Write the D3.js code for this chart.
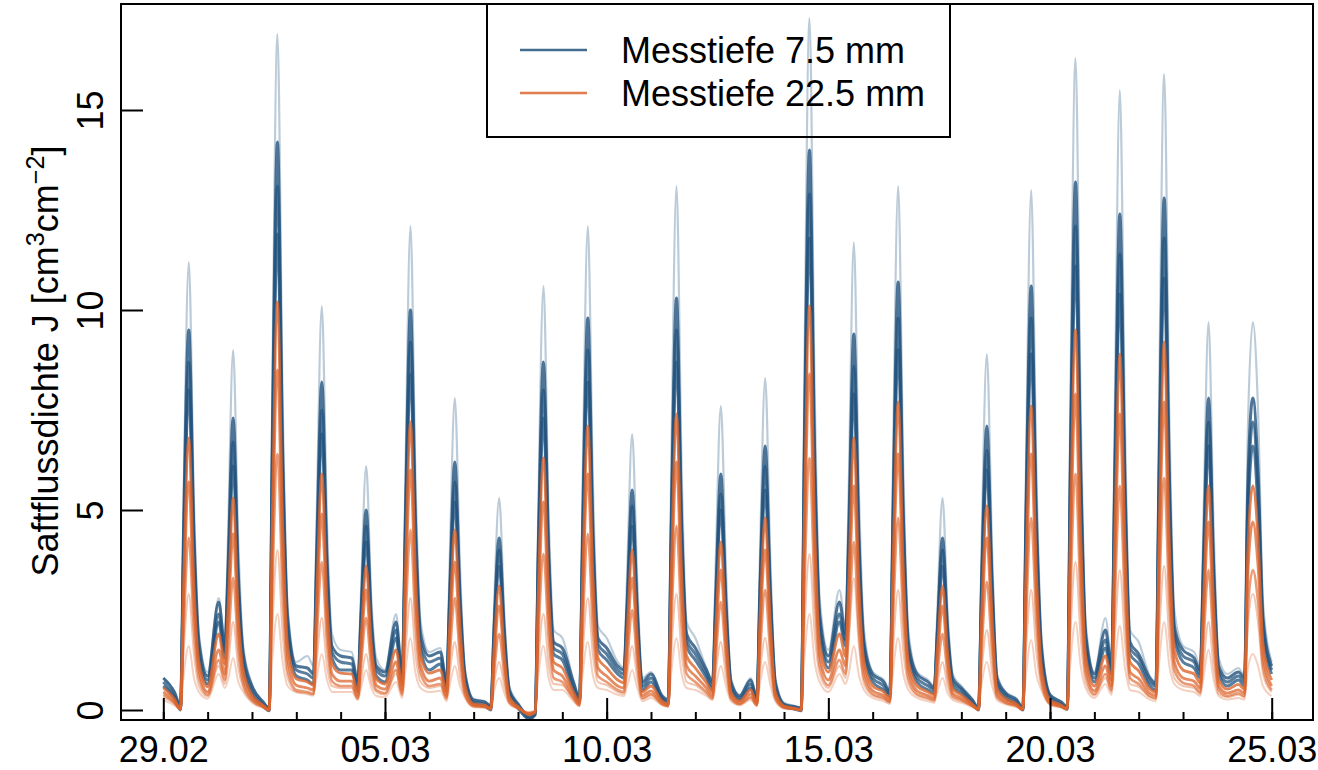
<!DOCTYPE html>
<html><head><meta charset="utf-8">
<script src="https://cdn.jsdelivr.net/npm/d3@7"></script>
<style>
html,body{margin:0;padding:0;background:#fff;}
svg{display:block;font-family:"Liberation Sans",Arial,Helvetica,sans-serif;}
</style></head>
<body><svg id="chart" width="1318" height="770"></svg>
<script>
// ---- data ----
const seriesNames = ["Messtiefe 7.5 mm", "Messtiefe 22.5 mm"];
const majorTickDays = [0, 5, 10, 15, 20, 25];
const majorTickLabels = ["29.02", "05.03", "10.03", "15.03", "20.03", "25.03"];
const minorTickDays = [0,1,2,3,4,5,6,7,8,9,10,11,12,13,14,15,16,17,18,19,20,21,22,23,24,25];
const yTicks = [0, 5, 10, 15];
// sample hours within each day (7 per day), days 0..24, plus final point at day 25 0h
const sampleHours = [0, 6, 9.3, 11.0, 13.8, 16.6, 19.3];

// Messtiefe 7.5 mm (blue)
const blueLight = [
0.8,0.45,0.1,5.3,11.2,5.2,1.9, 0.95,2.8,1.7,4.3,9.0,4.2,1.6,
0.65,0.22,0.05,8.0,16.9,7.8,2.6, 1.2,1.35,1.1,4.8,10.1,4.7,1.9,
1.5,1.45,0.75,2.9,6.1,2.8,1.3, 1.0,2.4,0.95,5.7,12.1,5.6,2.2,
1.45,1.55,0.75,3.7,7.8,3.6,1.0, 0.28,0.22,0.1,2.5,5.3,2.4,0.6,
0.18,-0.12,-0.02,5.0,10.6,4.9,2.0, 1.8,0.75,0.32,5.7,12.1,5.6,2.1,
1.8,1.2,1.05,3.3,6.9,3.2,0.8, 0.95,0.38,0.28,6.2,13.1,6.0,2.2,
1.8,1.05,0.75,3.6,7.6,3.5,0.8, 0.38,0.8,0.32,3.9,8.3,3.8,0.8,
0.18,0.1,0.05,8.2,17.3,8.0,2.8, 1.5,3.0,2.1,5.5,11.7,5.4,2.0,
0.95,0.75,0.5,6.2,13.1,6.0,2.0, 0.95,0.75,0.6,2.5,5.3,2.4,0.9,
0.6,0.28,0.05,4.2,8.9,4.1,0.9, 0.45,0.28,0.05,6.1,13.0,6.0,1.9,
0.4,0.22,0.1,7.7,16.3,7.5,2.2, 0.95,2.3,1.25,7.3,15.5,7.1,2.0,
1.7,0.85,0.7,7.5,15.9,7.3,2.5, 1.6,1.45,1.1,4.6,9.7,4.5,1.3,
0.9,1.05,0.85,6.8,9.7,7.5,2.7, 1.2];
const blueHigh = [
0.8,0.45,0.1,4.6,9.5,4.4,1.7, 0.85,2.7,1.6,3.5,7.3,3.4,1.4,
0.6,0.2,0.05,6.7,14.2,6.5,2.3, 1.1,1.05,0.9,3.9,8.2,3.8,1.6,
1.35,1.3,0.7,2.4,5.0,2.3,1.1, 0.95,2.2,0.9,4.7,10.0,4.6,1.9,
1.35,1.45,0.7,2.9,6.2,2.9,0.9, 0.25,0.2,0.1,2.0,4.3,2.0,0.5,
0.15,-0.15,-0.05,4.1,8.7,4.0,1.7, 1.55,0.7,0.3,4.6,9.8,4.5,1.8,
1.55,1.1,1.0,2.6,5.5,2.5,0.7, 0.9,0.35,0.25,4.8,10.3,4.7,1.9,
1.55,1.0,0.7,2.8,5.9,2.7,0.7, 0.35,0.75,0.3,3.1,6.6,3.0,0.7,
0.15,0.08,0.05,6.6,14.0,6.4,2.4, 1.35,2.7,1.9,4.4,9.4,4.3,1.7,
0.9,0.7,0.45,5.0,10.7,4.9,1.7, 0.9,0.7,0.55,2.0,4.3,2.0,0.8,
0.55,0.25,0.05,3.3,7.1,3.3,0.8, 0.42,0.25,0.05,5.0,10.6,4.9,1.6,
0.38,0.2,0.08,6.2,13.2,6.1,1.9, 0.9,2.0,1.1,5.8,12.4,5.7,1.7,
1.4,0.8,0.65,6.0,12.8,5.9,2.1, 1.5,1.3,1.0,3.7,7.8,3.6,1.1,
0.8,0.95,0.8,5.5,7.8,6.0,2.3, 1.1];
const blueMid = [
0.7,0.35,0.05,4.1,8.7,4.0,1.5, 0.75,2.4,1.45,3.2,6.7,3.1,1.25,
0.5,0.15,0.0,6.2,13.1,6.0,2.1, 1.0,0.9,0.8,3.5,7.5,3.5,1.45,
1.2,1.15,0.6,2.2,4.6,2.1,1.0, 0.85,2.0,0.8,4.3,9.2,4.2,1.7,
1.2,1.3,0.6,2.7,5.7,2.6,0.8, 0.2,0.15,0.05,1.9,4.0,1.8,0.45,
0.1,-0.2,-0.1,3.8,8.0,3.7,1.55, 1.4,0.6,0.25,4.2,9.0,4.1,1.65,
1.4,1.0,0.9,2.4,5.1,2.3,0.6, 0.8,0.3,0.2,4.5,9.5,4.4,1.75,
1.4,0.9,0.6,2.5,5.4,2.5,0.6, 0.3,0.65,0.25,2.9,6.1,2.8,0.6,
0.12,0.05,0.0,6.1,12.9,5.9,2.2, 1.2,2.4,1.75,4.0,8.6,4.0,1.55,
0.8,0.6,0.4,4.6,9.8,4.5,1.55, 0.8,0.6,0.5,1.9,4.0,1.8,0.7,
0.5,0.2,0.02,3.1,6.5,3.0,0.7, 0.37,0.2,0.02,4.6,9.8,4.5,1.45,
0.33,0.15,0.05,5.7,12.1,5.6,1.75, 0.8,1.75,1.0,5.4,11.4,5.2,1.55,
1.3,0.7,0.6,5.5,11.8,5.4,1.95, 1.35,1.2,0.9,3.4,7.2,3.3,1.0,
0.7,0.85,0.7,5.0,7.2,5.5,2.1, 1.0];
const blueLow = [
0.6,0.3,0.0,3.8,8.0,3.7,1.35, 0.65,2.2,1.3,2.9,6.1,2.8,1.1,
0.4,0.1,-0.02,5.6,11.9,5.5,1.9, 0.85,0.75,0.65,3.2,6.9,3.2,1.3,
1.0,1.0,0.5,2.0,4.2,1.9,0.85, 0.7,1.8,0.7,4.0,8.4,3.9,1.5,
1.0,1.15,0.5,2.4,5.2,2.4,0.7, 0.15,0.1,0.0,1.7,3.6,1.7,0.4,
0.05,-0.22,-0.12,3.4,7.3,3.4,1.4, 1.25,0.5,0.2,3.9,8.2,3.8,1.5,
1.25,0.9,0.8,2.2,4.6,2.1,0.5, 0.7,0.25,0.15,4.1,8.7,4.0,1.6,
1.25,0.8,0.5,2.4,5.0,2.3,0.5, 0.25,0.55,0.2,2.6,5.5,2.5,0.5,
0.08,0.02,-0.02,5.6,11.8,5.4,2.0, 1.05,2.2,1.6,3.7,7.9,3.6,1.4,
0.7,0.5,0.35,4.2,9.0,4.1,1.4, 0.7,0.5,0.42,1.7,3.6,1.7,0.6,
0.42,0.15,0.0,2.8,6.0,2.8,0.6, 0.3,0.15,0.0,4.2,8.9,4.1,1.3,
0.28,0.1,0.02,5.2,11.1,5.1,1.6, 0.7,1.55,0.9,4.9,10.4,4.8,1.4,
1.15,0.6,0.5,5.1,10.8,5.0,1.8, 1.2,1.05,0.8,3.1,6.6,3.0,0.9,
0.6,0.75,0.6,4.6,6.6,5.0,1.9, 0.9];

// Messtiefe 22.5 mm (orange)
const orangeHigh = [
0.55,0.28,0.03,3.2,6.8,3.1,1.2, 0.58,1.9,1.15,2.5,5.3,2.4,1.0,
0.38,0.12,0.0,4.8,10.2,4.7,1.6, 0.78,0.7,0.62,2.8,5.9,2.7,1.15,
0.92,0.9,0.45,1.7,3.6,1.65,0.78, 0.65,1.5,0.62,3.4,7.2,3.3,1.35,
0.92,1.0,0.45,2.1,4.5,2.1,0.62, 0.15,0.12,0.04,1.5,3.1,1.4,0.32,
0.08,-0.12,-0.06,3.0,6.3,2.9,1.2, 1.05,0.45,0.2,3.3,7.1,3.3,1.3,
1.05,0.75,0.68,1.9,4.0,1.8,0.45, 0.6,0.22,0.15,3.5,7.4,3.4,1.35,
1.05,0.68,0.45,2.0,4.2,1.95,0.45, 0.22,0.5,0.18,2.3,4.8,2.2,0.45,
0.1,0.04,0.0,4.8,10.1,4.6,1.65, 0.95,1.9,1.35,3.2,6.8,3.1,1.2,
0.6,0.45,0.3,3.6,7.7,3.5,1.2, 0.6,0.45,0.38,1.5,3.1,1.4,0.52,
0.38,0.15,0.02,2.4,5.1,2.35,0.52, 0.28,0.15,0.02,3.6,7.6,3.5,1.12,
0.25,0.12,0.04,4.5,9.5,4.4,1.35, 0.6,1.35,0.75,4.2,8.9,4.1,1.2,
0.98,0.52,0.45,4.3,9.2,4.2,1.5, 1.0,0.9,0.68,2.6,5.6,2.6,0.75,
0.52,0.64,0.52,3.9,5.6,4.3,1.65, 0.75];
const orangeMid = [
0.45,0.22,0.02,2.7,5.7,2.6,1.0, 0.45,1.5,0.9,2.1,4.4,2.0,0.8,
0.3,0.1,0.0,4.0,8.5,3.9,1.3, 0.62,0.55,0.5,2.3,4.9,2.25,0.9,
0.72,0.72,0.36,1.4,3.0,1.4,0.62, 0.52,1.2,0.5,2.8,6.0,2.8,1.1,
0.72,0.8,0.36,1.75,3.7,1.7,0.5, 0.12,0.1,0.03,1.2,2.6,1.2,0.26,
0.06,-0.1,-0.05,2.45,5.2,2.4,1.0, 0.85,0.36,0.15,2.8,5.9,2.7,1.05,
0.85,0.6,0.55,1.55,3.3,1.5,0.36, 0.48,0.18,0.12,2.9,6.2,2.85,1.1,
0.85,0.55,0.36,1.65,3.5,1.6,0.36, 0.18,0.4,0.15,1.9,4.0,1.85,0.36,
0.08,0.03,0.0,4.0,8.4,3.9,1.35, 0.75,1.5,1.1,2.6,5.6,2.6,1.0,
0.48,0.36,0.24,3.0,6.4,2.95,1.0, 0.48,0.36,0.3,1.2,2.6,1.2,0.42,
0.3,0.12,0.01,2.0,4.3,2.0,0.42, 0.22,0.12,0.01,3.0,6.4,2.95,0.9,
0.2,0.1,0.03,3.7,7.9,3.6,1.1, 0.48,1.1,0.6,3.5,7.4,3.4,0.95,
0.78,0.42,0.36,3.6,7.7,3.5,1.2, 0.8,0.72,0.55,2.2,4.7,2.15,0.6,
0.42,0.5,0.42,3.3,4.7,3.6,1.35, 0.6];
const orangeLow = [
0.38,0.18,0.02,2.0,4.3,2.0,0.8, 0.38,1.25,0.75,1.55,3.3,1.5,0.65,
0.25,0.08,0.0,3.0,6.4,2.9,1.0, 0.5,0.45,0.4,1.75,3.7,1.7,0.72,
0.6,0.6,0.3,1.1,2.3,1.05,0.5, 0.42,1.0,0.4,2.1,4.5,2.05,0.9,
0.6,0.65,0.3,1.3,2.8,1.3,0.4, 0.1,0.08,0.02,0.9,1.9,0.88,0.2,
0.05,-0.08,-0.04,1.8,3.9,1.8,0.8, 0.7,0.3,0.12,2.05,4.4,2.0,0.85,
0.7,0.5,0.45,1.15,2.5,1.15,0.3, 0.4,0.15,0.1,2.15,4.6,2.1,0.9,
0.7,0.45,0.3,1.25,2.7,1.25,0.3, 0.15,0.32,0.12,1.4,3.0,1.4,0.3,
0.06,0.02,0.0,2.95,6.3,2.9,1.1, 0.62,1.25,0.9,2.0,4.2,1.95,0.8,
0.4,0.3,0.2,2.25,4.8,2.2,0.8, 0.4,0.3,0.25,0.9,1.9,0.88,0.35,
0.25,0.1,0.01,1.5,3.2,1.5,0.35, 0.18,0.1,0.01,2.25,4.8,2.2,0.75,
0.16,0.08,0.02,2.75,5.9,2.7,0.9, 0.4,0.9,0.5,2.6,5.6,2.6,0.8,
0.65,0.35,0.3,2.7,5.8,2.65,1.0, 0.68,0.6,0.45,1.65,3.5,1.6,0.5,
0.35,0.42,0.35,2.45,3.5,2.7,1.1, 0.5];
const orangeFaintA = [
0.32,0.16,0.02,1.45,2.9,1.4,0.6, 0.34,1.1,0.65,1.1,2.2,1.05,0.55,
0.22,0.07,0.0,2.0,4.0,1.9,0.8, 0.45,0.4,0.36,1.2,2.3,1.1,0.6,
0.55,0.55,0.27,0.75,1.4,0.7,0.45, 0.38,0.9,0.36,1.4,2.8,1.35,0.7,
0.55,0.6,0.27,0.9,1.7,0.85,0.35, 0.09,0.07,0.02,0.65,1.2,0.6,0.18,
0.04,-0.07,-0.03,1.2,2.4,1.15,0.65, 0.62,0.27,0.11,1.4,2.8,1.35,0.7,
0.62,0.45,0.4,0.85,1.6,0.8,0.27, 0.36,0.14,0.09,1.45,2.9,1.4,0.7,
0.62,0.4,0.27,0.9,1.7,0.85,0.27, 0.14,0.3,0.11,0.95,1.8,0.9,0.27,
0.05,0.02,0.0,1.95,3.9,1.9,0.9, 0.55,1.1,0.8,1.7,3.3,1.6,0.65,
0.36,0.27,0.18,1.5,3.0,1.45,0.65, 0.36,0.27,0.22,0.65,1.2,0.6,0.3,
0.22,0.09,0.01,1.0,2.0,0.95,0.3, 0.17,0.09,0.01,1.5,3.0,1.45,0.6,
0.15,0.07,0.02,1.85,3.7,1.8,0.7, 0.36,0.8,0.45,1.75,3.5,1.7,0.65,
0.58,0.32,0.27,1.8,3.6,1.75,0.8, 0.6,0.55,0.4,1.1,2.2,1.05,0.4,
0.32,0.38,0.32,2.0,2.9,2.2,0.9, 0.45];
const orangeFaintB = [
0.25,0.12,0.01,0.85,1.6,0.8,0.45, 0.28,0.9,0.55,0.75,1.3,0.7,0.45,
0.18,0.05,0.0,1.25,2.4,1.2,0.6, 0.45,0.42,0.4,0.8,1.4,0.75,0.45,
0.45,0.45,0.25,0.55,1.0,0.55,0.35, 0.32,0.7,0.3,0.95,1.8,0.9,0.55,
0.45,0.48,0.22,0.6,1.1,0.6,0.3, 0.07,0.05,0.02,0.45,0.8,0.42,0.15,
0.03,-0.05,-0.02,0.85,1.6,0.8,0.5, 0.5,0.22,0.09,0.9,1.7,0.85,0.55,
0.5,0.38,0.35,0.58,1.0,0.55,0.22, 0.3,0.12,0.08,0.95,1.8,0.9,0.55,
0.5,0.35,0.25,0.6,1.1,0.6,0.22, 0.12,0.25,0.1,0.65,1.2,0.62,0.22,
0.04,0.02,0.0,1.25,2.4,1.2,0.7, 0.45,0.9,0.65,0.9,1.6,0.85,0.5,
0.3,0.22,0.15,0.95,1.8,0.9,0.5, 0.3,0.22,0.18,0.45,0.8,0.42,0.25,
0.18,0.07,0.01,0.65,1.2,0.62,0.25, 0.14,0.07,0.01,0.9,1.75,0.88,0.5,
0.12,0.06,0.02,1.15,2.2,1.1,0.55, 0.3,0.65,0.38,1.1,2.1,1.05,0.5,
0.45,0.26,0.22,1.15,2.2,1.1,0.65, 0.5,0.45,0.35,0.8,1.5,0.75,0.35,
0.26,0.3,0.26,1.0,1.4,1.1,0.6, 0.35];

// ---- drawing ----
const box = {left: 121, right: 1313, top: 4, bottom: 720};
const blue = "#22537d", orange = "#dc652d";
const FONT = 36;

const svg = d3.select("#chart");
const x = d3.scaleLinear().domain([0, 25]).range([163.3, 1271.7]);
const y = d3.scaleLinear().domain([0, 15]).range([710, 110]);

svg.append("defs").append("clipPath").attr("id", "clip")
  .append("rect").attr("x", box.left).attr("y", box.top)
  .attr("width", box.right - box.left).attr("height", box.bottom - box.top);

function toPoints(arr) {
  return arr.map((v, i) => {
    const day = Math.floor(i / sampleHours.length);
    const h = sampleHours[i % sampleHours.length];
    return {t: day + h / 24, v: v};
  });
}
const line = d3.line().x(d => x(d.t)).y(d => y(d.v)).curve(d3.curveMonotoneX);

const layers = [
  {data: blueLight, color: blue, op: 0.3, w: 2.2},
  {data: blueLow, color: blue, op: 0.75, w: 3},
  {data: blueMid, color: blue, op: 0.75, w: 3},
  {data: blueHigh, color: blue, op: 0.8, w: 3},
  {data: orangeFaintB, color: orange, op: 0.3, w: 2},
  {data: orangeFaintA, color: orange, op: 0.38, w: 2},
  {data: orangeLow, color: orange, op: 0.65, w: 2.6},
  {data: orangeMid, color: orange, op: 0.75, w: 2.8},
  {data: orangeHigh, color: orange, op: 0.8, w: 2.8}
];
const plot = svg.append("g").attr("clip-path", "url(#clip)");
plot.selectAll("path.series").data(layers).join("path")
  .attr("class", "series")
  .attr("d", d => line(toPoints(d.data)))
  .attr("fill", "none")
  .attr("stroke", d => d.color)
  .attr("stroke-opacity", d => d.op)
  .attr("stroke-width", d => d.w)
  .attr("stroke-linejoin", "round");

// box
svg.append("rect").attr("x", box.left).attr("y", box.top)
  .attr("width", box.right - box.left).attr("height", box.bottom - box.top)
  .attr("fill", "none").attr("stroke", "#000").attr("stroke-width", 2);

// x axis: minor + major ticks drawn inward
const xMinor = svg.append("g").attr("transform", `translate(0,${box.bottom})`)
  .call(d3.axisBottom(x).tickValues(minorTickDays).tickSize(-8).tickFormat(""));
const xMajor = svg.append("g").attr("transform", `translate(0,${box.bottom})`)
  .call(d3.axisBottom(x).tickValues(majorTickDays).tickSize(-22).tickPadding(16)
    .tickFormat((d, i) => majorTickLabels[i]));
[xMinor, xMajor].forEach(g => {
  g.select(".domain").remove();
  g.selectAll("line").attr("stroke", "#000").attr("stroke-width", 2);
});
xMajor.selectAll("text").attr("font-size", FONT).attr("fill", "#000")
  .attr("font-family", '"Liberation Sans",Arial,sans-serif');

// y axis
const yAxis = svg.append("g").attr("transform", `translate(${box.left},0)`)
  .call(d3.axisLeft(y).tickValues(yTicks).tickSize(-22));
yAxis.select(".domain").remove();
yAxis.selectAll("line").attr("stroke", "#000").attr("stroke-width", 2);
yAxis.selectAll("text")
  .attr("font-size", FONT).attr("fill", "#000")
  .attr("font-family", '"Liberation Sans",Arial,sans-serif')
  .attr("text-anchor", "middle")
  .attr("transform", "rotate(-90)")
  .attr("x", 0).attr("y", -18).attr("dy", 0);

// y title
const yt = svg.append("text")
  .attr("transform", "translate(58,361) rotate(-90)")
  .attr("text-anchor", "middle")
  .attr("font-size", FONT).attr("fill", "#000");
yt.append("tspan").text("Saftflussdichte J [cm");
yt.append("tspan").attr("font-size", FONT * 0.7).attr("dy", -14).text("3");
yt.append("tspan").attr("dy", 14).text("cm");
yt.append("tspan").attr("font-size", FONT * 0.7).attr("dy", -14).text("\u22122");
yt.append("tspan").attr("dy", 14).text("]");

// legend
const lg = svg.append("g");
lg.append("rect").attr("x", 487).attr("y", box.top).attr("width", 463).attr("height", 133)
  .attr("fill", "none").attr("stroke", "#000").attr("stroke-width", 2);
const legendColors = [blue, orange];
const legendY = [50, 93];
seriesNames.forEach((name, i) => {
  lg.append("line").attr("x1", 520).attr("x2", 587)
    .attr("y1", legendY[i]).attr("y2", legendY[i])
    .attr("stroke", legendColors[i]).attr("stroke-width", 2.5).attr("stroke-opacity", 0.85);
  lg.append("text").attr("x", 621).attr("y", legendY[i]).attr("dy", "0.36em")
    .attr("font-size", FONT).attr("fill", "#000").text(name);
});
</script>
</body></html>
